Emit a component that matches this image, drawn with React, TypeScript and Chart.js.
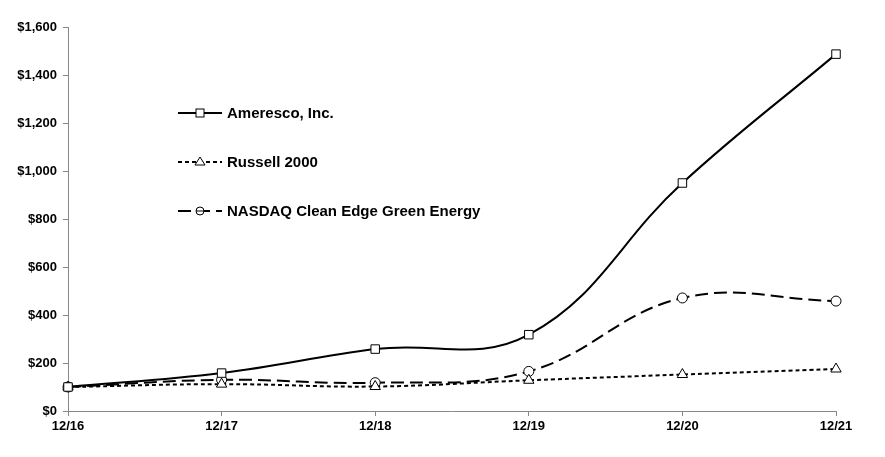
import React, { useEffect, useRef } from "react";
import { Chart, registerables } from "chart.js";

Chart.register(...registerables);

const categories = ["12/16", "12/17", "12/18", "12/19", "12/20", "12/21"];
const ameresco = [100, 158, 258, 318, 950, 1487];
const russell = [100, 112, 102, 128, 152, 175];
const nasdaqClean = [100, 130, 118, 165, 471, 458];
const seriesNames = ["Ameresco, Inc.", "Russell 2000", "NASDAQ Clean Edge Green Energy"];
const yTicks = [0, 200, 400, 600, 800, 1000, 1200, 1400, 1600];

const FONT = "'Liberation Sans', Arial, sans-serif";

const legendPlugin = {
  id: "insideLegend",
  afterDatasetsDraw(chart: any) {
    const ctx = chart.ctx;
    const area = chart.chartArea;
    const x0 = area.left + 110;
    const ys = [113, 162, 211];
    chart.data.datasets.forEach((ds: any, i: number) => {
      const y = ys[i];
      ctx.save();
      ctx.strokeStyle = "#000";
      ctx.lineWidth = 2;
      ctx.setLineDash(ds.borderDash || []);
      ctx.beginPath();
      ctx.moveTo(x0, y);
      ctx.lineTo(x0 + 44, y);
      ctx.stroke();
      ctx.setLineDash([]);
      ctx.lineWidth = 1;
      ctx.fillStyle = "#fff";
      const cx = x0 + 22;
      if (ds.pointStyle === "rect") {
        ctx.fillRect(cx - 4, y - 4, 8, 8);
        ctx.strokeRect(cx - 4, y - 4, 8, 8);
      } else if (ds.pointStyle === "triangle") {
        ctx.beginPath();
        ctx.moveTo(cx, y - 5);
        ctx.lineTo(cx + 5, y + 3);
        ctx.lineTo(cx - 5, y + 3);
        ctx.closePath();
        ctx.fill();
        ctx.stroke();
      } else {
        ctx.beginPath();
        ctx.arc(cx, y, 4, 0, Math.PI * 2);
        ctx.fill();
        ctx.stroke();
        ctx.beginPath();
        ctx.moveTo(cx - 4, y);
        ctx.lineTo(cx + 4, y);
        ctx.stroke();
      }
      ctx.fillStyle = "#000";
      ctx.font = `bold 15px ${FONT}`;
      ctx.textBaseline = "middle";
      ctx.textAlign = "left";
      ctx.fillText(ds.label, x0 + 49, y + 1);
      ctx.restore();
    });
  },
};

export default function App() {
  const ref = useRef<HTMLCanvasElement>(null);
  useEffect(() => {
    if (!ref.current) return;
    const common = {
      borderColor: "#000",
      borderWidth: 2,
      pointBackgroundColor: "#fff",
      pointBorderColor: "#000",
      pointBorderWidth: 1,
      tension: 0.4,
      fill: false,
    };
    const chart = new Chart(ref.current, {
      type: "line",
      data: {
        labels: categories,
        datasets: [
          { ...common, label: seriesNames[0], data: ameresco, pointStyle: "rect", pointRadius: 6 },
          { ...common, label: seriesNames[1], data: russell, pointStyle: "triangle", pointRadius: 6, borderDash: [4, 3] },
          { ...common, label: seriesNames[2], data: nasdaqClean, pointStyle: "circle", pointRadius: 5, borderDash: [13, 6] },
        ],
      },
      options: {
        animation: false,
        responsive: false,
        devicePixelRatio: 1,
        layout: { padding: { top: 27, right: 49, left: 0, bottom: 0 } },
        plugins: { legend: { display: false }, tooltip: { enabled: false } },
        scales: {
          x: {
            offset: false,
            grid: { display: true, drawOnChartArea: false, drawTicks: true, tickLength: 5, color: "#888" },
            border: { color: "#888", width: 1 },
            ticks: { color: "#000", font: { family: FONT, size: 13, weight: "bold" }, padding: 3, maxRotation: 0 },
            afterFit: (s: any) => { s.height = 46; },
          },
          y: {
            min: 0,
            max: 1600,
            afterBuildTicks: (s: any) => { s.ticks = yTicks.map((v) => ({ value: v })); },
            grid: { display: true, drawOnChartArea: false, drawTicks: true, tickLength: 5, color: "#888" },
            border: { color: "#888", width: 1 },
            ticks: {
              color: "#000",
              font: { family: FONT, size: 13, weight: "bold" },
              padding: 6,
              callback: (v: any) => "$" + Number(v).toLocaleString("en-US"),
            },
            afterFit: (s: any) => { s.width = 68; },
          },
        },
      },
      plugins: [legendPlugin],
    } as any);
    return () => chart.destroy();
  }, []);
  return (
    <div style={{ position: "fixed", left: 0, top: 0, width: 885, height: 457, background: "#fff" }}>
      <canvas ref={ref} width={885} height={457} style={{ width: 885, height: 457 }} />
    </div>
  );
}
